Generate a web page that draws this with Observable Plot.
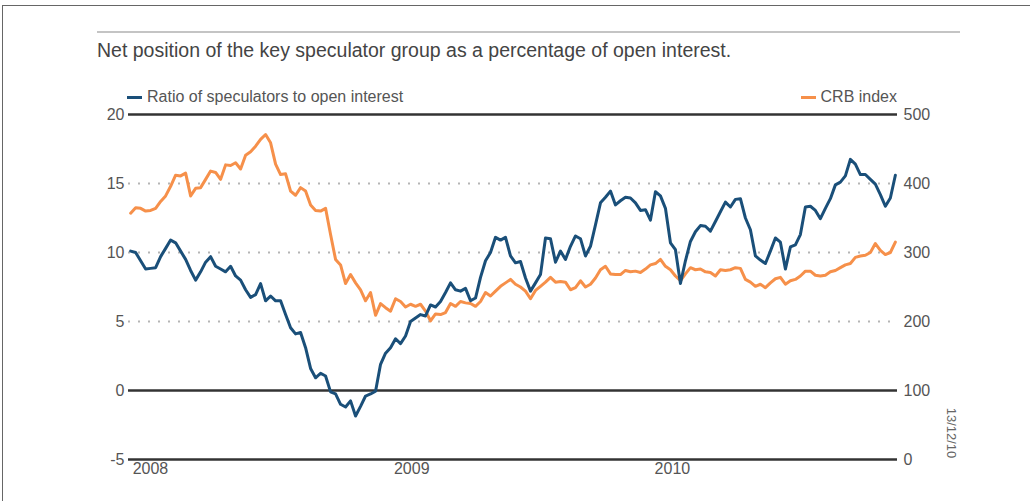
<!DOCTYPE html>
<html>
<head>
<meta charset="utf-8">
<script src="https://cdn.jsdelivr.net/npm/d3@7"></script>
<script src="https://cdn.jsdelivr.net/npm/@observablehq/plot@0.6"></script>
<style>
  html, body { margin: 0; padding: 0; background: #fff; }
  #wrap { position: relative; width: 1030px; height: 501px; overflow: hidden; font-family: "Liberation Sans", Arial, sans-serif; }
  #frameTop { position: absolute; left: 2px; top: 5px; width: 1028px; height: 0; border-top: 1px solid #666; }
  #frameLeft { position: absolute; left: 2px; top: 5px; width: 0; height: 500px; border-left: 1px solid #666; }
  #rule { position: absolute; left: 97px; top: 31px; width: 863px; height: 0; border-top: 2px solid #c4c4c4; }
  #title { position: absolute; left: 97px; top: 39px; font-size: 19.5px; color: #444; white-space: nowrap; }
  .leg { position: absolute; top: 88px; font-size: 16px; color: #555; white-space: nowrap; display: flex; align-items: center; }
  .sw { display: inline-block; width: 15px; height: 3px; margin-right: 5px; }
  #stamp { position: absolute; left: 951px; top: 433px; font-size: 13px; color: #666; transform: translate(-50%, -50%) rotate(90deg); white-space: nowrap; }
  #chart { position: absolute; left: 0; top: 100px; }
</style>
</head>
<body>
<div id="wrap">
  <div id="frameTop"></div>
  <div id="frameLeft"></div>
  <div id="rule"></div>
  <div id="title">Net position of the key speculator group as a percentage of open interest.</div>
  <div class="leg" id="legA" style="left:127px"><span class="sw" style="background:#1a4f79"></span>Ratio of speculators to open interest</div>
  <div class="leg" id="legB" style="right:133px"><span class="sw" style="background:#f6904a"></span>CRB index</div>
  <div id="stamp">13/12/10</div>
  <div id="chart"></div>
</div>
<script>
// Weekly observations starting Tuesday 1 January 2008
const startDate = "2008-01-01";

// Net position of key speculator group, % of open interest (left axis)
const ratio = [
  10.1, 10.0, 9.4, 8.8, 8.85, 8.9, 9.7, 10.3, 10.9, 10.7,
  10.1, 9.5, 8.7, 8.0, 8.6, 9.3, 9.7, 9.0, 8.8, 8.6,
  9.0, 8.3, 8.0, 7.3, 6.75, 6.95, 7.75, 6.5, 6.85, 6.5,
  6.5, 5.5, 4.55, 4.1, 4.2, 3.1, 1.6, 0.92, 1.25, 1.05,
  -0.1, -0.25, -1.0, -1.2, -0.75, -1.85, -1.15, -0.4, -0.25, -0.05,
  1.9, 2.7, 3.1, 3.75, 3.4, 3.95, 5.0, 5.25, 5.5, 5.4,
  6.2, 6.05, 6.45, 7.1, 7.8, 7.3, 7.2, 7.4, 6.5, 6.7,
  8.2, 9.4, 10.0, 11.1, 10.9, 11.1, 9.75, 9.25, 9.35, 8.15,
  7.2, 7.8, 8.4, 11.05, 11.0, 9.3, 10.1, 9.5, 10.45, 11.2,
  11.0, 9.75, 10.45, 12.0, 13.6, 14.0, 14.45, 13.45, 13.75, 14.0,
  13.95, 13.6, 13.05, 13.1, 12.35, 14.4, 14.1, 13.2, 10.7, 10.2,
  7.75, 9.4, 10.8, 11.5, 11.95, 11.9, 11.55, 12.25, 12.95, 13.65,
  13.3, 13.85, 13.9, 12.5, 11.65, 9.75, 9.45, 9.2, 10.1, 11.05,
  10.75, 8.8, 10.4, 10.55, 11.3, 13.3, 13.35, 13.05, 12.45, 13.2,
  13.9, 14.9, 15.1, 15.55, 16.75, 16.4, 15.65, 15.65, 15.3, 14.95,
  14.2, 13.35, 13.95, 15.6
];

// CRB commodity index (right axis)
const crb = [
  357, 365, 364, 360, 361, 364, 374, 382, 396, 412,
  411, 415, 382, 393, 394, 406, 418, 416, 406, 427,
  426, 430, 421, 441, 446, 454, 464, 471, 459, 428,
  413, 414, 389, 383, 394, 389, 369, 361, 360, 364,
  326, 290, 282, 255, 268, 256, 246, 230, 242, 209,
  226, 220, 215, 233, 229, 221, 225, 222, 225, 215,
  201, 211, 210, 213, 226, 222, 229, 227, 226, 222,
  229, 242, 237, 244, 251, 256, 261, 254, 250, 244,
  233, 245, 251, 257, 264, 257, 258, 257, 246, 249,
  259, 250, 254, 263, 275, 280, 269, 268, 268, 274,
  272, 273, 271, 276, 282, 284, 290, 280, 275, 266,
  259, 269, 278, 275, 276, 272, 271, 266, 275, 274,
  275, 278, 277, 261, 257, 251, 254, 249, 256, 262,
  264, 254, 259, 261, 266, 273, 273, 267, 266, 267,
  272, 274, 278, 282, 284, 293, 295, 296, 300, 313,
  303, 297, 300, 315
];

const leftTicks = [-5, 0, 5, 10, 15, 20];
const solidLines = [20, 0, -5];
const dottedLines = [15, 10, 5];
const yearTicks = ["2008-01-01", "2009-01-01", "2010-01-01"];
const xDomain = ["2007-12-29", "2010-12-10"];

const start = new Date(startDate);
const toLeft = v => (v - 100) / 20;        // right-axis units -> left-axis units
const fromLeft = v => v * 20 + 100;

const ratioData = ratio.map((v, i) => ({date: d3.utcDay.offset(start, 7 * i), value: v}));
const crbData = crb.map((v, i) => ({date: d3.utcDay.offset(start, 7 * i), value: toLeft(v)}));

const tickColor = "#555";

const chart = Plot.plot({
  width: 1030,
  height: 390,
  marginLeft: 128,
  marginRight: 133,
  marginTop: 14,
  marginBottom: 31,
  style: {fontFamily: "'Liberation Sans', Arial, sans-serif", fontSize: "16px", color: tickColor, background: "transparent"},
  x: {type: "utc", domain: xDomain.map(d => new Date(d))},
  y: {domain: [-5, 20]},
  marks: [
    Plot.ruleY(dottedLines, {stroke: "#b5b5b5", strokeWidth: 2, strokeDasharray: "2,8"}),
    Plot.ruleY(solidLines, {stroke: "#333", strokeWidth: 2.5}),
    Plot.axisY({anchor: "left", ticks: leftTicks, tickSize: 0, tickPadding: 4, label: null, fontSize: 16, tickFormat: d => String(d)}),
    Plot.axisY({anchor: "right", ticks: leftTicks, tickSize: 0, tickPadding: 6, label: null, fontSize: 16, tickFormat: d => String(fromLeft(d))}),
    Plot.axisX({ticks: yearTicks.map(d => new Date(d)), tickFormat: d3.utcFormat("%Y"), tickSize: 0, tickPadding: 3, textAnchor: "start", dx: 2, label: null, fontSize: 16}),
    Plot.line(crbData, {x: "date", y: "value", stroke: "#f6904a", strokeWidth: 3, strokeLinejoin: "round"}),
    Plot.line(ratioData, {x: "date", y: "value", stroke: "#1a4f79", strokeWidth: 3, strokeLinejoin: "round"})
  ]
});
document.getElementById("chart").appendChild(chart);
</script>
</body>
</html>
